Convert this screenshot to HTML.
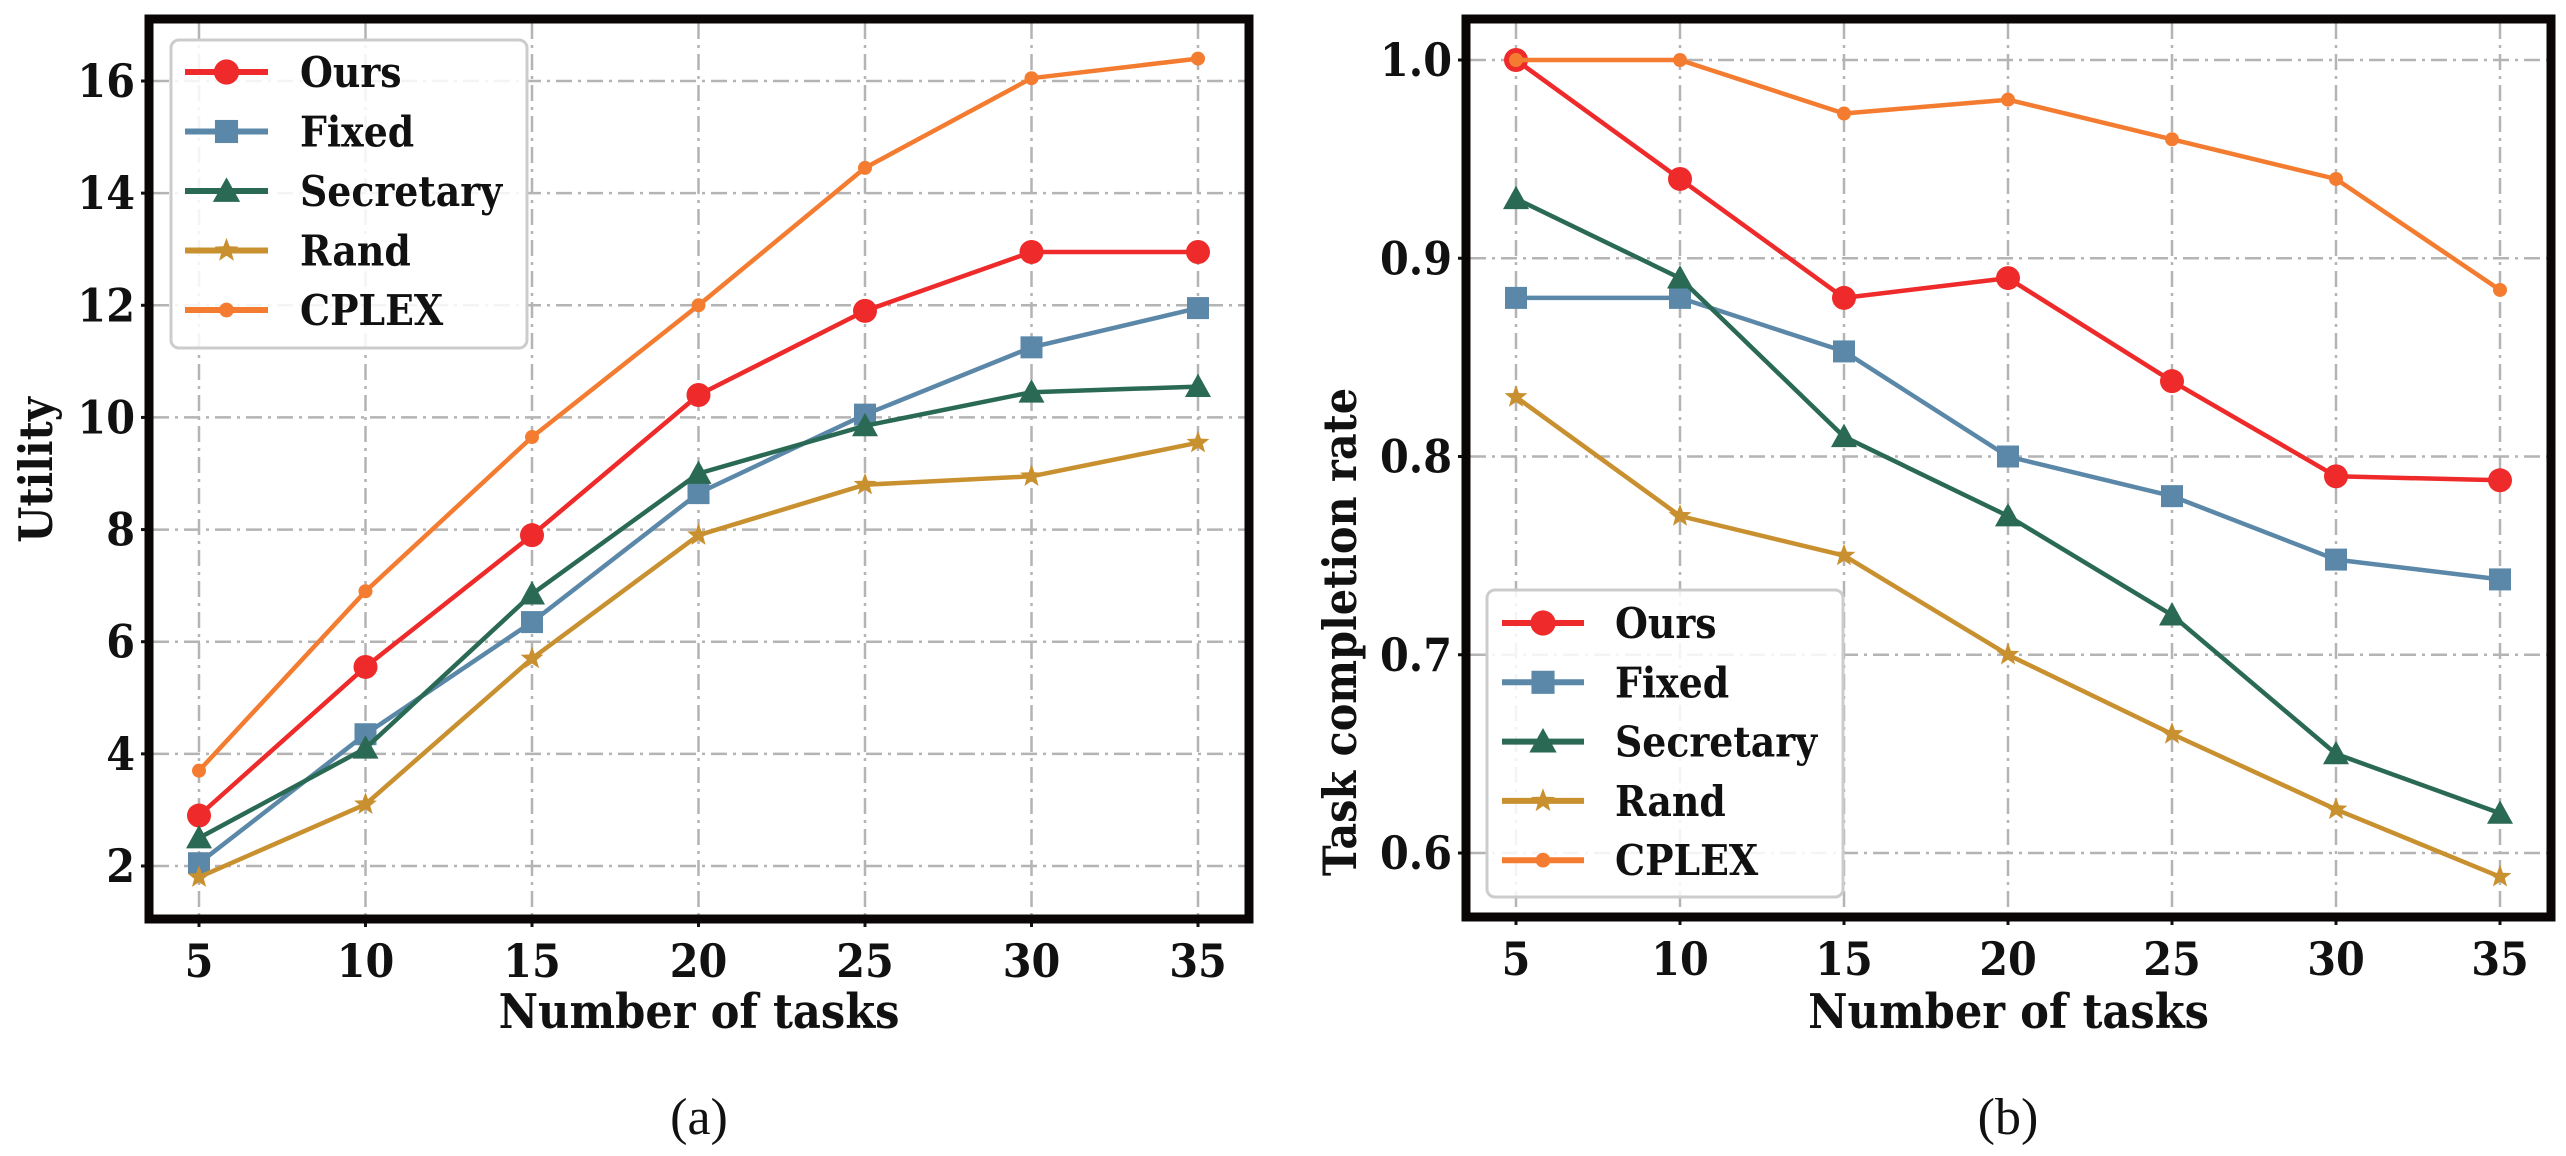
<!DOCTYPE html>
<html><head><meta charset="utf-8">
<style>
html,body{margin:0;padding:0;background:#fff;}
svg{display:block;}
text{font-family:"DejaVu Serif Condensed","DejaVu Serif","Liberation Serif",serif;font-stretch:condensed;font-weight:bold;fill:#111;}
</style></head>
<body>
<svg id="fig" width="2566" height="1156" viewBox="0 0 2566 1156" xmlns="http://www.w3.org/2000/svg">
<g id="chartA"></g>
<g id="chartB"></g>
<text x="699" y="1134" text-anchor="middle" font-size="52" style="font-family:'Liberation Serif',serif;font-weight:normal;font-stretch:normal">(a)</text>
<text x="2008" y="1134" text-anchor="middle" font-size="52" style="font-family:'Liberation Serif',serif;font-weight:normal;font-stretch:normal">(b)</text>
</svg>
<script>
const xCats = [5, 10, 15, 20, 25, 30, 35];
const seriesNames = ["Ours", "Fixed", "Secretary", "Rand", "CPLEX"];
const utilOurs = [2.9, 5.55, 7.9, 10.4, 11.9, 12.95, 12.95];
const utilFixed = [2.05, 4.35, 6.35, 8.65, 10.05, 11.25, 11.95];
const utilSecretary = [2.5, 4.1, 6.85, 9.0, 9.85, 10.45, 10.55];
const utilRand = [1.8, 3.1, 5.7, 7.9, 8.8, 8.95, 9.55];
const utilCplex = [3.7, 6.9, 9.65, 12.0, 14.45, 16.05, 16.4];
const rateOurs = [1.0, 0.94, 0.88, 0.89, 0.838, 0.79, 0.788];
const rateFixed = [0.88, 0.88, 0.853, 0.80, 0.78, 0.748, 0.738];
const rateSecretary = [0.93, 0.89, 0.81, 0.77, 0.72, 0.65, 0.62];
const rateRand = [0.83, 0.77, 0.75, 0.70, 0.66, 0.622, 0.588];
const rateCplex = [1.0, 1.0, 0.973, 0.98, 0.96, 0.94, 0.884];
const utilTicks = [2, 4, 6, 8, 10, 12, 14, 16];
const rateTicks = [0.6, 0.7, 0.8, 0.9, 1.0];
const rateTickLabels = ["0.6", "0.7", "0.8", "0.9", "1.0"];

const NS = "http://www.w3.org/2000/svg";
const colors = ["#ee2a2a", "#5b88a8", "#2a6a55", "#c99030", "#f47c30"];
const markers = ["circle", "square", "triangle", "star", "dot"];

function mk(tag, attrs, parent) {
  const e = document.createElementNS(NS, tag);
  for (const k in attrs) e.setAttribute(k, attrs[k]);
  parent.appendChild(e);
  return e;
}

function drawMarker(g, type, cx, cy, color, size) {
  let m;
  if (type === "circle") m = mk("circle", {cx: cx, cy: cy, r: 12 * size, fill: color}, g);
  else if (type === "dot") m = mk("circle", {cx: cx, cy: cy, r: 7 * size, fill: color}, g);
  else if (type === "square") { const s = 11 * size; m = mk("rect", {x: cx - s, y: cy - s, width: 2 * s, height: 2 * s, fill: color}, g); }
  else if (type === "triangle") { const s = 13 * size; m = mk("polygon", {points: `${cx},${cy - s} ${cx - s},${cy + s * 0.8} ${cx + s},${cy + s * 0.8}`, fill: color}, g); }
  else {
    const R = 12 * size, r = 5 * size; let p = [];
    for (let i = 0; i < 10; i++) { const a = -Math.PI / 2 + i * Math.PI / 5; const rr = i % 2 ? r : R; p.push((cx + rr * Math.cos(a)).toFixed(1) + "," + (cy + rr * Math.sin(a)).toFixed(1)); }
    m = mk("polygon", {points: p.join(" "), fill: color}, g);
  }
  
  
}

function drawChart(g, cfg) {
  const xs = v => cfg.x0 + (v - 5) / 30 * (cfg.x1 - cfg.x0);
  const ys = v => cfg.yA + (v - cfg.vA) / (cfg.vB - cfg.vA) * (cfg.yB - cfg.yA);
  const L = cfg.left, R = cfg.right, T = cfg.top, B = cfg.bottom;
  const grid = mk("g", {}, g);
  
  
  xCats.forEach(v => mk("line", {x1: xs(v), x2: xs(v), y1: T, y2: B, stroke: "#b4b4b4", "stroke-width": 2.5, "stroke-dasharray": "16 6 3 6"}, grid));
  cfg.ticks.forEach(v => mk("line", {x1: L, x2: R, y1: ys(v), y2: ys(v), stroke: "#b4b4b4", "stroke-width": 2.5, "stroke-dasharray": "16 6 3 6"}, grid));
  const xt = mk("g", {}, g);
  
  
  xCats.forEach(v => {
    mk("line", {x1: xs(v), x2: xs(v), y1: B, y2: B + 12, stroke: "#111", "stroke-width": 3}, xt);
    const t = mk("text", {x: xs(v), y: B + 62, "text-anchor": "middle", "font-size": 46}, xt);
    t.textContent = v;
  });
  const yt = mk("g", {}, g);
  
  
  cfg.ticks.forEach((v, i) => {
    mk("line", {x1: L - 12, x2: L, y1: ys(v), y2: ys(v), stroke: "#111", "stroke-width": 3}, yt);
    const t = mk("text", {x: L - 18, y: ys(v) + 16, "text-anchor": "end", "font-size": 46}, yt);
    t.textContent = cfg.tickLabels[i];
  });
  cfg.data.forEach((arr, si) => {
    const sg = mk("g", {}, g);
    
    
    const pts = arr.map((v, i) => xs(xCats[i]).toFixed(1) + "," + ys(v).toFixed(1)).join(" ");
    mk("polyline", {points: pts, fill: "none", stroke: colors[si], "stroke-width": 4.5, "stroke-linejoin": "round"}, sg);
    arr.forEach((v, i) => drawMarker(sg, markers[si], xs(xCats[i]), ys(v), colors[si], 1));
  });
  const fr = mk("rect", {x: L - 4, y: T - 4, width: R - L + 8, height: B - T + 8, fill: "none", stroke: "#0a0606", "stroke-width": 9}, g);
  
  
  const lg = mk("g", {}, g);
  
  
  const lb = cfg.legend;
  mk("rect", {x: lb.x, y: lb.y, width: lb.w, height: lb.h, rx: 8, fill: "#fff", "fill-opacity": 0.85, stroke: "#cccccc", "stroke-width": 3}, lg);
  seriesNames.forEach((n, i) => {
    const e = mk("g", {}, lg);
    
    
    const y = lb.ey + i * lb.step;
    mk("line", {x1: lb.lx1, x2: lb.lx2, y1: y, y2: y, stroke: colors[i], "stroke-width": 6}, e);
    drawMarker(e, markers[i], (lb.lx1 + lb.lx2) / 2, y, colors[i], 1.05);
    const t = mk("text", {x: lb.tx, y: y + 15, "font-size": 42}, e);
    t.textContent = n;
  });
  const xl = mk("text", {x: (L + R) / 2, y: cfg.xlabY, "text-anchor": "middle", "font-size": 48}, g);
  xl.textContent = "Number of tasks";
  
  
  const yl = mk("text", {x: 0, y: 0, "text-anchor": "middle", "font-size": 46, transform: `translate(${cfg.ylabX},${cfg.ylabYc}) rotate(-90)`}, g);
  yl.textContent = cfg.ylab;
  
  
}

drawChart(document.getElementById("chartA"), {
  left: 153, right: 1245, top: 23, bottom: 915,
  x0: 199, x1: 1198, vA: 2, yA: 866, vB: 16, yB: 81,
  ticks: utilTicks, tickLabels: utilTicks.map(String),
  data: [utilOurs, utilFixed, utilSecretary, utilRand, utilCplex],
  legend: {x: 171, y: 40, w: 356, h: 308, ey: 72, step: 59.5, lx1: 185, lx2: 268, tx: 300},
  xlabY: 1028, ylab: "Utility", ylabX: 52, ylabYc: 470
});
drawChart(document.getElementById("chartB"), {
  left: 1470, right: 2547, top: 23, bottom: 913,
  x0: 1516, x1: 2500, vA: 0.6, yA: 853, vB: 1.0, yB: 60,
  ticks: rateTicks, tickLabels: rateTickLabels,
  data: [rateOurs, rateFixed, rateSecretary, rateRand, rateCplex],
  legend: {x: 1487, y: 590, w: 356, h: 307, ey: 623, step: 59.3, lx1: 1502, lx2: 1584, tx: 1615},
  xlabY: 1028, ylab: "Task completion rate", ylabX: 1356, ylabYc: 632
});
</script>
</body></html>
